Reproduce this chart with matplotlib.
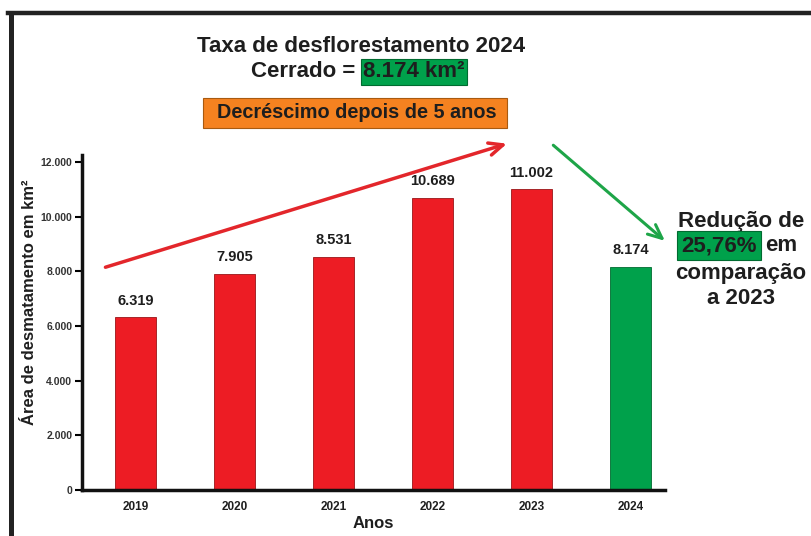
import matplotlib.pyplot as plt
from matplotlib.lines import Line2D
from matplotlib.patches import Rectangle

# Cerrado deforestation, km2 per year
anos = ['2019', '2020', '2021', '2022', '2023', '2024']
area_km2 = [6319, 7905, 8531, 10689, 11002, 8174]
rotulos = ['6.319', '7.905', '8.531', '10.689', '11.002', '8.174']
yticks = [0, 2000, 4000, 6000, 8000, 10000, 12000]
ytick_labels = ['0', '2.000', '4.000', '6.000', '8.000', '10.000', '12.000']
reducao = '25,76%'

RED = '#ED1C24'
GREEN = '#00A14B'
ORANGE = '#F58220'
INK = '#1e1e1e'

plt.rcParams['font.family'] = ['Liberation Sans', 'DejaVu Sans']

fig = plt.figure(figsize=(8.11, 5.36), dpi=100)
W, H = 811, 536
ax = fig.add_axes([82 / W, 1 - 490 / H, (665 - 82) / W, (490 - 155) / H])

cores = [RED] * 5 + [GREEN]
x = list(range(len(anos)))
bars = ax.bar(x, area_km2, width=0.42, color=cores, edgecolor='#9a1518', linewidth=0.6)
bars[-1].set_edgecolor('#006b30')

for xi, v, lab in zip(x, area_km2, rotulos):
    ax.annotate(lab, (xi, v), xytext=(0, 7), textcoords='offset points',
                ha='center', va='bottom', fontsize=10.5, fontweight='bold', color=INK)

ax.set_xlim(-0.54, 5.35)
ax.set_ylim(0, 12000 * (490 - 155) / (490 - 162))
ax.set_yticks(yticks)
ax.set_yticklabels(ytick_labels, fontsize=7.5, fontweight='bold', color='#333333')
ax.set_xticks(x)
ax.set_xticklabels(anos, fontsize=8.5, fontweight='bold', color=INK)
ax.tick_params(axis='x', length=0, pad=8)
ax.tick_params(axis='y', length=5, width=1.5, pad=2)
for s in ['top', 'right']:
    ax.spines[s].set_visible(False)
for s in ['left', 'bottom']:
    ax.spines[s].set_linewidth(2.5)
    ax.spines[s].set_color('#111111')

ax.set_xlabel('Anos', fontsize=12, fontweight='bold', color=INK, labelpad=2)
ax.set_ylabel('Área de desmatamento em km²', fontsize=12, fontweight='bold', color=INK)
ax.yaxis.set_label_coords(-0.077, 0.56)

# trend arrows
ax.annotate('', xy=(3.78, 12700), xytext=(-0.33, 8120), annotation_clip=False,
            arrowprops=dict(arrowstyle='->,head_length=1.0,head_width=0.45',
                            color='#E3262B', lw=2.5))
ax.annotate('', xy=(5.37, 9050), xytext=(4.2, 12680), annotation_clip=False,
            arrowprops=dict(arrowstyle='->,head_length=1.0,head_width=0.45',
                            color='#1EA548', lw=2.2))

# frame around the figure
fig.add_artist(Line2D([8 / W, 1], [1 - 13 / H] * 2, color='#222222', lw=3.2,
                      transform=fig.transFigure))
fig.add_artist(Line2D([10.5 / W] * 2, [0, 1 - 13 / H], color='#222222', lw=3.6,
                      transform=fig.transFigure))

# headline
fig.text(361 / W, 1 - 46 / H, 'Taxa de desflorestamento 2024', ha='center', va='center',
         fontsize=16, fontweight='bold', color=INK)
fig.text(355 / W, 1 - 72 / H, 'Cerrado =', ha='right', va='center',
         fontsize=16, fontweight='bold', color=INK)
fig.text(363 / W, 1 - 72 / H, '8.174 km²', ha='left', va='center',
         fontsize=16, fontweight='bold', color=INK,
         bbox=dict(boxstyle='square,pad=0.1', fc=GREEN, ec='#006b30', lw=0.8))

fig.add_artist(Rectangle((203 / W, 1 - 128 / H), 304 / W, 30 / H, transform=fig.transFigure,
                         fc=ORANGE, ec='#a85a10', lw=0.8))
fig.text(357 / W, 1 - 113 / H, 'Decréscimo depois de 5 anos', ha='center', va='center',
         fontsize=14.3, fontweight='bold', color=INK)

# reduction note
fig.text(741 / W, 1 - 221 / H, 'Redução de', ha='center', va='center',
         fontsize=16, fontweight='bold', color=INK)
fig.text(719 / W, 1 - 246 / H, reducao, ha='center', va='center',
         fontsize=16, fontweight='bold', color=INK,
         bbox=dict(boxstyle='square,pad=0.18', fc=GREEN, ec='#006b30', lw=0.8))
fig.text(765 / W, 1 - 246 / H, 'em', ha='left', va='center',
         fontsize=16, fontweight='bold', color=INK)
fig.text(741 / W, 1 - 273 / H, 'comparação', ha='center', va='center',
         fontsize=16, fontweight='bold', color=INK)
fig.text(741 / W, 1 - 298 / H, 'a 2023', ha='center', va='center',
         fontsize=16, fontweight='bold', color=INK)

fig.savefig('out.png', dpi=100)
